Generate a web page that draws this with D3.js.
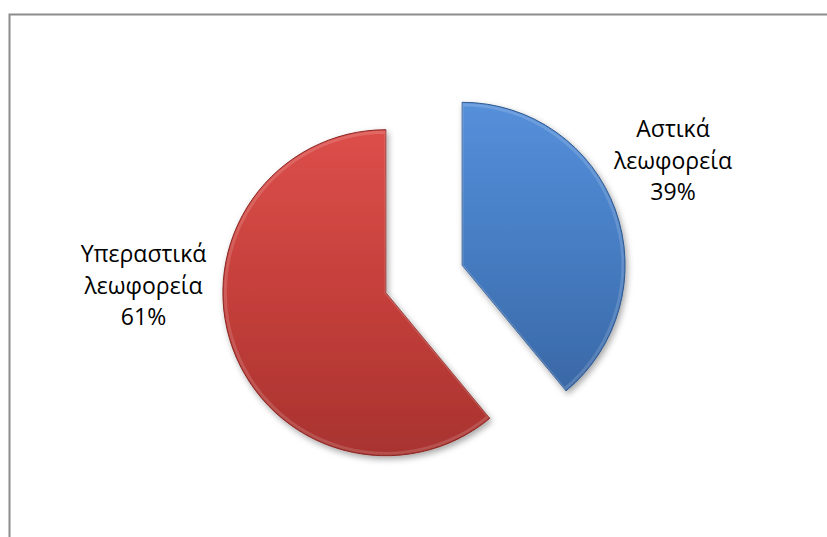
<!DOCTYPE html>
<html>
<head>
<meta charset="utf-8">
<script src="https://cdn.jsdelivr.net/npm/d3@7/dist/d3.min.js"></script>
<style>
  html, body { margin: 0; padding: 0; background: #fff; }
  svg { display: block; }
</style>
</head>
<body>
<svg id="chart" width="827" height="537"></svg>
<script>
// ---- data ----
const categories = ["Αστικά λεωφορεία", "Υπεραστικά λεωφορεία"];
const labelLines = [["Αστικά", "λεωφορεία"], ["Υπεραστικά", "λεωφορεία"]];
const values = [39, 61];
const percentLabels = ["39%", "61%"];

// ---- layout ----
const W = 827, H = 537;
const cx = 424, cy = 279, R = 163, explode = 40.5;
const svg = d3.select("#chart");
const defs = svg.append("defs");

// frame (cropped chart area border)
svg.append("path")
  .attr("d", `M9.5,${H} L9.5,14.5 L${W},14.5`)
  .attr("fill", "none").attr("stroke", "#8c8c8c").attr("stroke-width", 2);

const palettes = [
  { light: "#5690da", mid: "#467dc3", dark: "#3a68a6", edge: "#30598f" },
  { light: "#dc4f4a", mid: "#c53f3b", dark: "#a8332f", edge: "#8a2623" }
];

palettes.forEach((p, i) => {
  const g = defs.append("linearGradient").attr("id", "grad" + i)
    .attr("x1", 0).attr("y1", 0).attr("x2", 0).attr("y2", 1);
  g.append("stop").attr("offset", "0%").attr("stop-color", p.light);
  g.append("stop").attr("offset", "50%").attr("stop-color", p.mid);
  g.append("stop").attr("offset", "100%").attr("stop-color", p.dark);
});

const f = defs.append("filter").attr("id", "shadow")
  .attr("x", "-20%").attr("y", "-20%").attr("width", "140%").attr("height", "140%");
f.append("feDropShadow").attr("dx", 2).attr("dy", 3).attr("stdDeviation", 3)
  .attr("flood-color", "#000").attr("flood-opacity", 0.35);

const pie = d3.pie().sort(null).value(d => d)(values);
const arc = d3.arc().innerRadius(0).outerRadius(R);

const slices = svg.append("g").attr("transform", `translate(${cx},${cy})`);
pie.forEach((d, i) => {
  const mid = (d.startAngle + d.endAngle) / 2;
  const ox = Math.sin(mid) * explode, oy = -Math.cos(mid) * explode;
  const g = slices.append("g").attr("transform", `translate(${ox},${oy})`);
  g.append("path").attr("d", arc(d))
    .attr("fill", `url(#grad${i})`)
    .attr("stroke", palettes[i].edge).attr("stroke-width", 1)
    .attr("stroke-linejoin", "round")
    .attr("filter", "url(#shadow)");
  // soft bevel highlight
  g.append("path").attr("d", arc(d))
    .attr("fill", "none")
    .attr("stroke", "#ffffff").attr("stroke-opacity", 0.15)
    .attr("stroke-width", 3)
    .attr("transform", "scale(0.985)");
});

// labels
const labelPos = [
  { x: 673, y: 137 },
  { x: 143.5, y: 262 }
];
const lineH = 31.5;
pie.forEach((d, i) => {
  const t = svg.append("text")
    .attr("text-anchor", "middle")
    .attr("font-family", "'Open Sans', 'Noto Sans', sans-serif")
    .attr("font-size", 23)
    .attr("fill", "#000");
  const lines = labelLines[i].concat([percentLabels[i]]);
  lines.forEach((ln, k) => {
    t.append("tspan").attr("x", labelPos[i].x).attr("y", labelPos[i].y + k * lineH).text(ln);
  });
});
</script>
</body>
</html>
